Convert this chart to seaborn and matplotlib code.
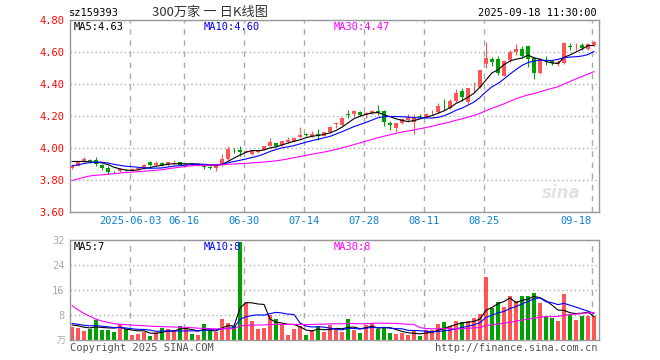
import numpy as np
import pandas as pd
import matplotlib
matplotlib.use("Agg")
import matplotlib.pyplot as plt
import seaborn as sns

# sina daily k-line for sz159393, 2025-05-19 .. 2025-09-18 (88 trading days)
code = "sz159393"
title = "300万家 一 日K线图"
stamp = "2025-09-18 11:30:00"

date_labels = ["2025-06-03", "06-16", "06-30", "07-14", "07-28", "08-11", "08-25", "09-18"]
date_index = [10, 19, 29, 39, 49, 59, 69, 87]

open_ = [3.877, 3.890, 3.910, 3.922, 3.928, 3.895, 3.876, 3.852, 3.855, 3.864,
         3.860, 3.866, 3.875, 3.913, 3.895, 3.908, 3.891, 3.903, 3.910, 3.892,
         3.902, 3.892, 3.886, 3.881, 3.873, 3.894, 3.931, 3.990, 3.987, 3.976,
         3.962, 3.975, 3.987, 4.015, 4.029, 4.019, 4.038, 4.044, 4.069, 4.087,
         4.075, 4.085, 4.077, 4.098, 4.150, 4.144, 4.212, 4.210, 4.227, 4.206,
         4.217, 4.228, 4.231, 4.158, 4.125, 4.154, 4.175, 4.165, 4.197, 4.196,
         4.225, 4.227, 4.264, 4.252, 4.295, 4.357, 4.290, 4.381, 4.379, 4.525,
         4.556, 4.556, 4.452, 4.550, 4.600, 4.619, 4.640, 4.560, 4.467, 4.553,
         4.544, 4.525, 4.530, 4.636, 4.635, 4.644, 4.620, 4.644]
high = [3.897, 3.915, 3.945, 3.930, 3.945, 3.900, 3.885, 3.858, 3.875, 3.870,
        3.872, 3.878, 3.900, 3.918, 3.920, 3.912, 3.915, 3.922, 3.912, 3.904,
        3.905, 3.903, 3.895, 3.886, 3.900, 3.960, 4.010, 4.000, 4.012, 3.985,
        3.990, 3.990, 4.015, 4.060, 4.030, 4.046, 4.071, 4.070, 4.133, 4.096,
        4.108, 4.117, 4.100, 4.135, 4.160, 4.192, 4.238, 4.240, 4.230, 4.227,
        4.235, 4.269, 4.235, 4.170, 4.156, 4.190, 4.215, 4.215, 4.210, 4.220,
        4.240, 4.279, 4.304, 4.304, 4.370, 4.373, 4.375, 4.410, 4.490, 4.665,
        4.570, 4.575, 4.550, 4.612, 4.650, 4.640, 4.640, 4.560, 4.560, 4.575,
        4.550, 4.550, 4.660, 4.658, 4.658, 4.658, 4.658, 4.668]
low = [3.870, 3.885, 3.905, 3.905, 3.890, 3.860, 3.840, 3.845, 3.850, 3.855,
       3.855, 3.862, 3.868, 3.888, 3.885, 3.888, 3.888, 3.893, 3.893, 3.888,
       3.893, 3.885, 3.870, 3.870, 3.858, 3.890, 3.925, 3.970, 3.950, 3.972,
       3.955, 3.970, 3.985, 4.010, 4.005, 4.015, 4.030, 4.040, 4.065, 4.075,
       4.070, 4.050, 4.075, 4.095, 4.123, 4.140, 4.185, 4.196, 4.200, 4.185,
       4.210, 4.206, 4.140, 4.115, 4.100, 4.150, 4.165, 4.087, 4.185, 4.185,
       4.205, 4.217, 4.240, 4.245, 4.290, 4.296, 4.275, 4.352, 4.375, 4.498,
       4.515, 4.456, 4.450, 4.535, 4.580, 4.560, 4.508, 4.430, 4.460, 4.516,
       4.520, 4.510, 4.525, 4.610, 4.612, 4.610, 4.610, 4.640]
close = [3.889, 3.910, 3.930, 3.919, 3.900, 3.878, 3.853, 3.849, 3.868, 3.861,
         3.866, 3.872, 3.895, 3.893, 3.906, 3.892, 3.910, 3.906, 3.896, 3.900,
         3.896, 3.898, 3.883, 3.878, 3.894, 3.931, 3.994, 3.987, 3.973, 3.981,
         3.987, 3.987, 4.012, 4.035, 4.015, 4.044, 4.050, 4.065, 4.081, 4.084,
         4.085, 4.077, 4.098, 4.129, 4.158, 4.190, 4.208, 4.231, 4.206, 4.217,
         4.231, 4.226, 4.160, 4.143, 4.154, 4.179, 4.192, 4.188, 4.195, 4.210,
         4.228, 4.265, 4.262, 4.295, 4.343, 4.316, 4.373, 4.384, 4.487, 4.565,
         4.540, 4.467, 4.546, 4.602, 4.619, 4.577, 4.556, 4.467, 4.554, 4.550,
         4.530, 4.540, 4.658, 4.633, 4.638, 4.623, 4.648, 4.660]
volume = [4.2, 3.8, 2.9, 3.6, 6.5, 3.2, 3.2, 2.6, 5.0, 3.5,
          1.6, 2.0, 2.7, 1.3, 2.7, 3.9, 3.6, 2.9, 4.5, 3.6,
          2.0, 1.6, 5.1, 3.0, 2.7, 6.7, 5.4, 4.6, 31.5, 11.7,
          6.2, 3.6, 3.9, 8.1, 6.7, 4.8, 1.6, 3.6, 4.4, 1.6,
          3.2, 4.6, 2.6, 4.8, 3.4, 2.6, 6.7, 3.2, 2.2, 4.8,
          5.3, 3.6, 3.9, 2.2, 1.8, 2.2, 1.6, 2.9, 1.3, 3.2,
          3.2, 5.1, 5.8, 4.5, 6.2, 5.8, 6.2, 7.1, 8.3, 20.3,
          10.2, 12.2, 10.6, 14.1, 12.5, 14.1, 14.1, 15.1, 11.8, 7.7,
          7.1, 6.1, 14.7, 8.0, 6.4, 7.7, 7.7, 7.7]

# 29 sessions before the window, only used to seed the moving averages
prev_close = [3.60, 3.62, 3.66, 3.78, 3.80, 3.74, 3.74, 3.75, 3.76, 3.79,
              3.80, 3.81, 3.81, 3.81, 3.77, 3.75, 3.75, 3.75, 3.755, 3.765,
              3.84, 3.85, 3.86, 3.87, 3.88, 3.91, 3.93, 3.93, 3.92]
prev_volume = [45, 38, 30, 36, 20, 16, 14, 12, 6.5, 6,
               5.5, 5.5, 5.5, 5.5, 5.5, 5.5, 5.5, 5.5, 5, 5.5,
               6.5, 6, 5.5, 5.5, 5.5, 5.0, 5.2, 4.8, 4.8]

ma_labels = ["MA5:4.63", "MA10:4.60", "MA30:4.47"]
vol_labels = ["MA5:7", "MA10:8", "MA30:8"]

RED = "#ff5555"
GREEN = "#00a000"
MA_COLORS = ["black", "#0000ff", "#ff00ff"]
W, H = 660, 360

df = pd.DataFrame({"open": open_, "high": high, "low": low, "close": close, "volume": volume})
n = len(df)
x = np.arange(n)
colors = np.where(df.close >= df.open, RED, GREEN)

all_close = pd.Series(prev_close + close)
all_vol = pd.Series(prev_volume + volume)
ma_price = [all_close.rolling(k).mean().iloc[-n:].to_numpy() for k in (5, 10, 30)]
ma_vol = [all_vol.rolling(k).mean().iloc[-n:].to_numpy() for k in (5, 10, 30)]

sns.set_style("white")
plt.rcParams["font.family"] = ["DejaVu Sans Mono"]

fig = plt.figure(figsize=(6.6, 3.6), dpi=100)
ax = fig.add_axes([70 / W, 1 - 212 / H, 529 / W, 192 / H])
axv = fig.add_axes([70 / W, 1 - 340 / H, 529 / W, 100 / H])

# candles
ax.vlines(x, df.low, df.high, colors=colors, lw=0.8, zorder=2)
body = (df.close - df.open).abs().clip(lower=0.003)
ax.bar(x, body, bottom=np.minimum(df.open, df.close), width=0.72,
       color=colors, linewidth=0, zorder=3)
for ma, c in zip(ma_price, MA_COLORS):
    sns.lineplot(x=x, y=ma, ax=ax, color=c, lw=0.8, legend=False, zorder=4)

# volume
axv.bar(x, df.volume, width=0.82, color=colors, linewidth=0, zorder=2)
for ma, c in zip(ma_vol, MA_COLORS):
    sns.lineplot(x=x, y=ma, ax=axv, color=c, lw=0.8, legend=False, zorder=4)

grid_x = np.array(date_index) - 0.33
for a in (ax, axv):
    a.set_xlim(-0.33, n - 0.17)
    a.set_xticks(grid_x)
    a.xaxis.grid(True, color="#aaaaaa", ls=(0, (4, 4)), lw=1)
    a.yaxis.grid(True, color="#aaaaaa", ls=(0, (1, 2)), lw=1)
    a.set_axisbelow(True)
    a.set_xlabel("")
    a.set_ylabel("")
    for s in a.spines.values():
        s.set_color("#999999")
        s.set_linewidth(1)
        s.set_visible(True)

ax.set_ylim(3.6, 4.8)
ax.set_yticks(np.arange(3.6, 4.81, 0.2))
ax.set_yticklabels([f"{v:.2f}" for v in np.arange(3.6, 4.81, 0.2)])
ax.tick_params(axis="y", colors="red", labelsize=7.5, length=0, pad=4)
ax.set_xticklabels(date_labels)
ax.tick_params(axis="x", colors="#0a7fd6", labelsize=7.5, length=0, pad=3)
ax.get_xticklabels()[-1].set_ha("right")

axv.set_ylim(0, 32)
axv.set_yticks([8, 16, 24, 32])
axv.tick_params(axis="y", colors="#aaaaaa", labelsize=7.5, length=0, pad=4)
axv.tick_params(axis="x", length=0, labelbottom=False)

ax.text(0.965, 0.1, "sina", transform=ax.transAxes, color="#e2e2e2", fontsize=12,
        fontstyle="italic", fontweight="bold", ha="right", va="center", family="DejaVu Sans")


def ftext(px, py, s, **kw):
    fig.text(px / W, 1 - py / H, s, va="center", **kw)


ftext(69, 13, code, fontsize=7.5, color="black")
ftext(210, 12, title, fontsize=9.5, color="#333333", ha="center",
      family=["Noto Sans CJK SC", "DejaVu Sans"])
ftext(597, 13, stamp, fontsize=7.5, color="black", ha="right")
for px, s, c in zip((74, 204, 334), ma_labels, MA_COLORS):
    ftext(px, 27, s, fontsize=7.5, color=c)
for px, s, c in zip((74, 204, 334), vol_labels, MA_COLORS):
    ftext(px, 247, s, fontsize=7.5, color=c)
ftext(66, 341, "万", fontsize=6.5, color="#aaaaaa", ha="right",
      family=["Noto Sans CJK SC", "DejaVu Sans"])
ftext(70, 348, "Copyright 2025 SINA.COM", fontsize=7.5, color="#555555")
ftext(597, 348, "http://finance.sina.com.cn", fontsize=7.5, color="#555555", ha="right")

fig.savefig("out.png", dpi=100)
